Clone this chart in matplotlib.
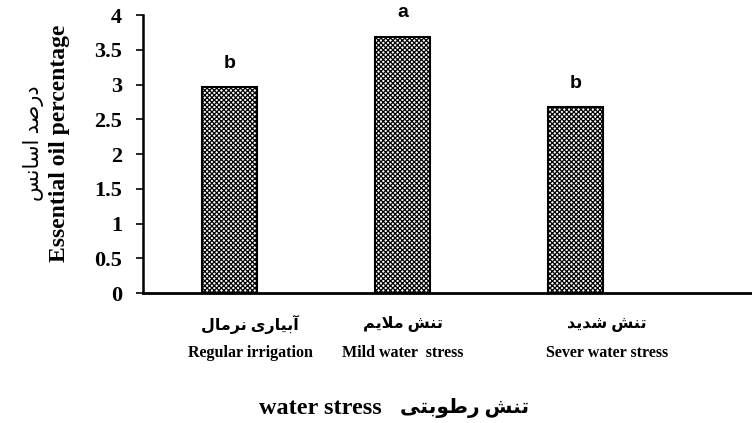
import matplotlib
matplotlib.use("Agg")
import matplotlib.pyplot as plt
import matplotlib.transforms as mtransforms

# Persian strings are written pre-shaped (Arabic presentation forms) in visual order
# because matplotlib does no Arabic shaping / bidi.
cats_fa = [
    "\uFEDD\uFE8E\uFEE3\uFEAE\uFEE7 \uFBFC\uFEAD\uFE8E\uFBFF\uFE91\uFE81",  # آبیاری نرمال
    "\uFEE2\uFBFE\uFEFC\uFEE3 \uFEB6\uFEE8\uFE97",                          # تنش ملایم
    "\uFEAA\uFBFE\uFEAA\uFEB7 \uFEB6\uFEE8\uFE97",                          # تنش شدید
]
cats_en = ["Regular irrigation", "Mild water  stress", "Sever water stress"]
oil = [2.97, 3.69, 2.67]
letters = ["b", "a", "b"]
ylab_fa = "\uFEB2\uFEE7\uFE8E\uFEB3\uFE8D \uFEAA\uFEBB\uFEAD\uFEA9"        # درصد اسانس
ylab_en = "Essential oil percentage"
xlab_fa = "\uFBFD\uFE98\uFE91\uFEEE\uFEC3\uFEAD \uFEB6\uFEE8\uFE97"        # تنش رطوبتی
xlab_en = "water stress"

serif = ["Liberation Serif", "DejaVu Sans"]
plt.rcParams["hatch.linewidth"] = 0.9

fig = plt.figure(figsize=(7.52, 4.23), dpi=100)
ax = fig.add_axes([0.190, 0.307, 0.810, 0.6575])

x = range(len(oil))
ax.bar(x, oil, width=0.32, color="white", edgecolor="black", hatch="xxxxxxx", linewidth=1.5)

for xi, v, l in zip(x, oil, letters):
    ax.annotate(l, (xi, v), xytext=(0, 17), textcoords="offset points",
                ha="center", va="center", fontsize=14, fontweight="bold",
                family="Liberation Sans")

ax.set_xlim(-0.5, 3.02)
ax.set_ylim(0, 4)
ax.set_yticks([0, 0.5, 1, 1.5, 2, 2.5, 3, 3.5, 4])
ax.set_yticklabels(["0", "0.5", "1", "1.5", "2", "2.5", "3", "3.5", "4"],
                   family=serif, fontweight="bold", fontsize=16)
ax.tick_params(axis="y", direction="out", length=5, width=1.2, pad=10)
ax.set_xticks([])
for s in ["top", "right"]:
    ax.spines[s].set_visible(False)
ax.spines["left"].set_linewidth(1.8)
ax.spines["bottom"].set_linewidth(2)

# category labels (two lines: Persian above English)
trans = mtransforms.blended_transform_factory(ax.transData, fig.transFigure)
label_x = [0.12, 1.0, 2.18]
for lx, fa, en in zip(label_x, cats_fa, cats_en):
    ax.text(lx, 1 - 324 / 423, fa, transform=trans, ha="center", va="center",
            fontsize=11.5, fontweight="bold", family=serif)
    ax.text(lx, 1 - 353 / 423, en, transform=trans, ha="center", va="center",
            fontsize=11.5, fontweight="bold", family=serif)

# y label
fig.text(60 / 752, 1 - 143 / 423, ylab_en, rotation=90, ha="center", va="center",
         fontsize=17, fontweight="bold", family=serif)
fig.text(34 / 752, 1 - 143 / 423, ylab_fa, rotation=90, ha="center", va="center",
         fontsize=15, family=serif)

# x label
fig.text(382 / 752, 1 - 408 / 423, xlab_en, ha="right", va="center",
         fontsize=17.5, fontweight="bold", family=serif)
fig.text(400 / 752, 1 - 408 / 423, xlab_fa, ha="left", va="center",
         fontsize=14.5, fontweight="bold", family=serif)

fig.savefig("out.png", dpi=100)
